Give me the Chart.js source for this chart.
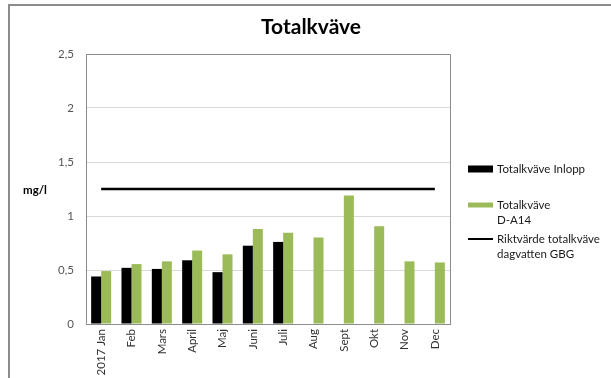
<!DOCTYPE html>
<html>
<head>
<meta charset="utf-8">
<script src="https://cdn.jsdelivr.net/npm/chart.js@4.4.1/dist/chart.umd.min.js"></script>
<style>
  html, body { margin: 0; padding: 0; background: #fff; }
  #wrap { position: relative; width: 611px; height: 378px; overflow: hidden; }
  #frame { position: absolute; left: 8px; top: 4px; width: 620px; height: 400px;
           border-top: 2px solid #8c8c8c; border-left: 2px solid #8c8c8c; box-sizing: border-box; }
  canvas { position: absolute; left: 0; top: 0; }
</style>
</head>
<body>
<div id="wrap">
  <div id="frame"></div>
  <canvas id="c" width="611" height="378"></canvas>
</div>
<script>
// Monthly total nitrogen (mg/l), 2017
const months = ['2017 Jan', 'Feb', 'Mars', 'April', 'Maj', 'Juni', 'Juli', 'Aug', 'Sept', 'Okt', 'Nov', 'Dec'];
const inlopp = [0.44, 0.52, 0.51, 0.59, 0.48, 0.725, 0.76, null, null, null, null, null];
const da14   = [0.49, 0.555, 0.58, 0.68, 0.645, 0.88, 0.845, 0.80, 1.19, 0.905, 0.58, 0.57];
const riktvarde = [1.25, 1.25, 1.25, 1.25, 1.25, 1.25, 1.25, 1.25, 1.25, 1.25, 1.25, 1.25];
const yTickLabels = ['0', '0,5', '1', '1,5', '2', '2,5'];
const legendLabels = [['Totalkväve Inlopp'], ['Totalkväve', 'D-A14'], ['Riktvärde totalkväve', 'dagvatten GBG']];
const chartTitle = 'Totalkväve';
const yAxisTitle = 'mg/l';

const FONT = 'Lato, "Open Sans", sans-serif';
const GREEN = '#9bbb59';

// Title, unit label, plot frame and the legend on the right
const decorations = {
  id: 'decorations',
  beforeDatasetsDraw(chart) {
    const { ctx, chartArea: a } = chart;
    ctx.save();
    ctx.strokeStyle = '#8c8c8c';
    ctx.lineWidth = 1;
    ctx.beginPath();
    ctx.moveTo(a.left, a.top + 0.5);
    ctx.lineTo(a.right + 0.5, a.top + 0.5);
    ctx.lineTo(a.right + 0.5, a.bottom);
    ctx.stroke();
    ctx.restore();
  },
  afterDraw(chart) {
    const { ctx } = chart;
    ctx.save();
    ctx.fillStyle = '#000';
    ctx.textAlign = 'center';
    ctx.textBaseline = 'middle';
    ctx.font = 'bold 21px ' + FONT;
    ctx.fillText(chartTitle, 311, 27);

    ctx.font = 'bold 11.5px ' + FONT;
    ctx.textAlign = 'left';
    ctx.fillText(yAxisTitle, 23, 190);

    // legend
    const ds = chart.data.datasets;
    const boxX = 468, boxW = 25, textX = 497;
    const rows = [169, 205, 239];
    ctx.font = '11.5px ' + FONT;
    ds.forEach((d, i) => {
      const y = rows[i];
      if (d.type === 'line') {
        ctx.strokeStyle = d.borderColor;
        ctx.lineWidth = 2;
        ctx.beginPath();
        ctx.moveTo(boxX, y);
        ctx.lineTo(boxX + boxW, y);
        ctx.stroke();
      } else {
        const h = i === 0 ? 7 : 5;
        ctx.fillStyle = d.backgroundColor;
        ctx.fillRect(boxX, y - h / 2, boxW, h);
      }
      ctx.fillStyle = '#1a1a1a';
      legendLabels[i].forEach((t, k) => ctx.fillText(t, textX, y + k * 15.5));
    });
    ctx.restore();
  }
};

new Chart(document.getElementById('c'), {
  data: {
    labels: months,
    datasets: [
      { type: 'bar', label: 'Totalkväve Inlopp', data: inlopp, backgroundColor: '#000',
        categoryPercentage: 0.66, barPercentage: 1.0, order: 2 },
      { type: 'bar', label: 'Totalkväve D-A14', data: da14, backgroundColor: GREEN,
        categoryPercentage: 0.66, barPercentage: 1.0, order: 2 },
      { type: 'line', label: 'Riktvärde totalkväve dagvatten GBG', data: riktvarde,
        borderColor: '#000', borderWidth: 2.5, pointRadius: 0, fill: false, order: 1 }
    ]
  },
  options: {
    responsive: false,
    animation: false,
    devicePixelRatio: 1,
    layout: { padding: { top: 54, right: 161, left: 0, bottom: 0 } },
    plugins: { legend: { display: false }, title: { display: false }, tooltip: { enabled: false } },
    scales: {
      x: {
        grid: { display: false, drawTicks: false },
        border: { color: '#8c8c8c', width: 1 },
        ticks: { minRotation: 90, maxRotation: 90, autoSkip: false, padding: 5,
                 color: '#333', font: { family: FONT, size: 11.5 } },
        afterFit(s) { s.height = 54; }
      },
      y: {
        min: 0, max: 2.5,
        grid: { color: '#d9d9d9', drawTicks: false },
        border: { color: '#8c8c8c', width: 1 },
        ticks: { stepSize: 0.5, padding: 12, color: '#555', font: { family: FONT, size: 11.5 },
                 callback: (v) => yTickLabels[Math.round(v / 0.5)] },
        afterFit(s) { s.width = 86; }
      }
    }
  },
  plugins: [decorations]
});
</script>
</body>
</html>
